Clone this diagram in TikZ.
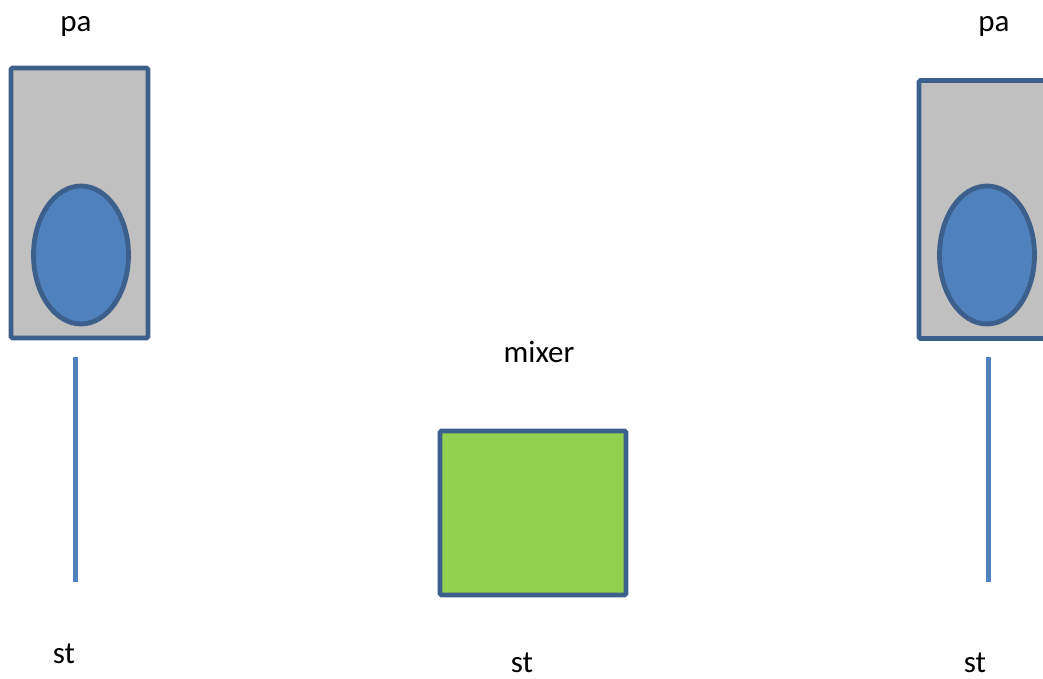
\documentclass[tikz,border=0pt]{standalone}
\usepackage{fontspec}
\setmainfont{Carlito}
\usetikzlibrary{shapes.geometric}
\definecolor{edgeblue}{HTML}{3D5F8B}
\definecolor{coneblue}{HTML}{4F81BD}
\definecolor{boxgray}{HTML}{C0C0C0}
\definecolor{mixgreen}{HTML}{92D050}
\tikzset{
  cabinet/.style={draw=edgeblue, line width=4.8pt, fill=boxgray, rounded corners=1.5pt},
  cone/.style={draw=edgeblue, line width=4.8pt, fill=coneblue, ellipse, inner sep=0pt},
  mixbox/.style={draw=edgeblue, line width=4.8pt, fill=mixgreen, rounded corners=1.5pt},
  standline/.style={draw=coneblue, line width=5pt},
  lbl/.style={font=\fontsize{31}{36}\selectfont, inner sep=0pt, anchor=center}
}
\begin{document}
\begin{tikzpicture}[x=1pt,y=-1pt]
\useasboundingbox (0,0) rectangle (1043,679);
% left speaker
\node[cabinet, minimum width=137pt, minimum height=270pt] (lbox) at (79.5,203) {};
\node[cone, minimum width=95pt, minimum height=138pt] (lcone) at (81,255) {};
% right speaker (extends past the right edge)
\node[cabinet, minimum width=141pt, minimum height=258pt] (rbox) at (989.5,209.5) {};
\node[cone, minimum width=95pt, minimum height=138pt] (rcone) at (987,255) {};
% mixer
\node[mixbox, minimum width=186pt, minimum height=164pt] (mix) at (533,513) {};
% stands
\coordinate (lst1) at (75,357);
\coordinate (lst2) at (75,582);
\coordinate (rst1) at (988,357);
\coordinate (rst2) at (988,582);
\draw[standline] (lst1) -- (lst2);
\draw[standline] (rst1) -- (rst2);
% labels
\node[lbl] (lpa) at (76,26) {pa};
\node[lbl] (rpa) at (994,26) {pa};
\node[lbl] (mixlbl) at (539,352) {mixer};
\node[lbl] (lst) at (64,654) {st};
\node[lbl] (mst) at (522,663) {st};
\node[lbl] (rst) at (975,663) {st};
\end{tikzpicture}
\end{document}
